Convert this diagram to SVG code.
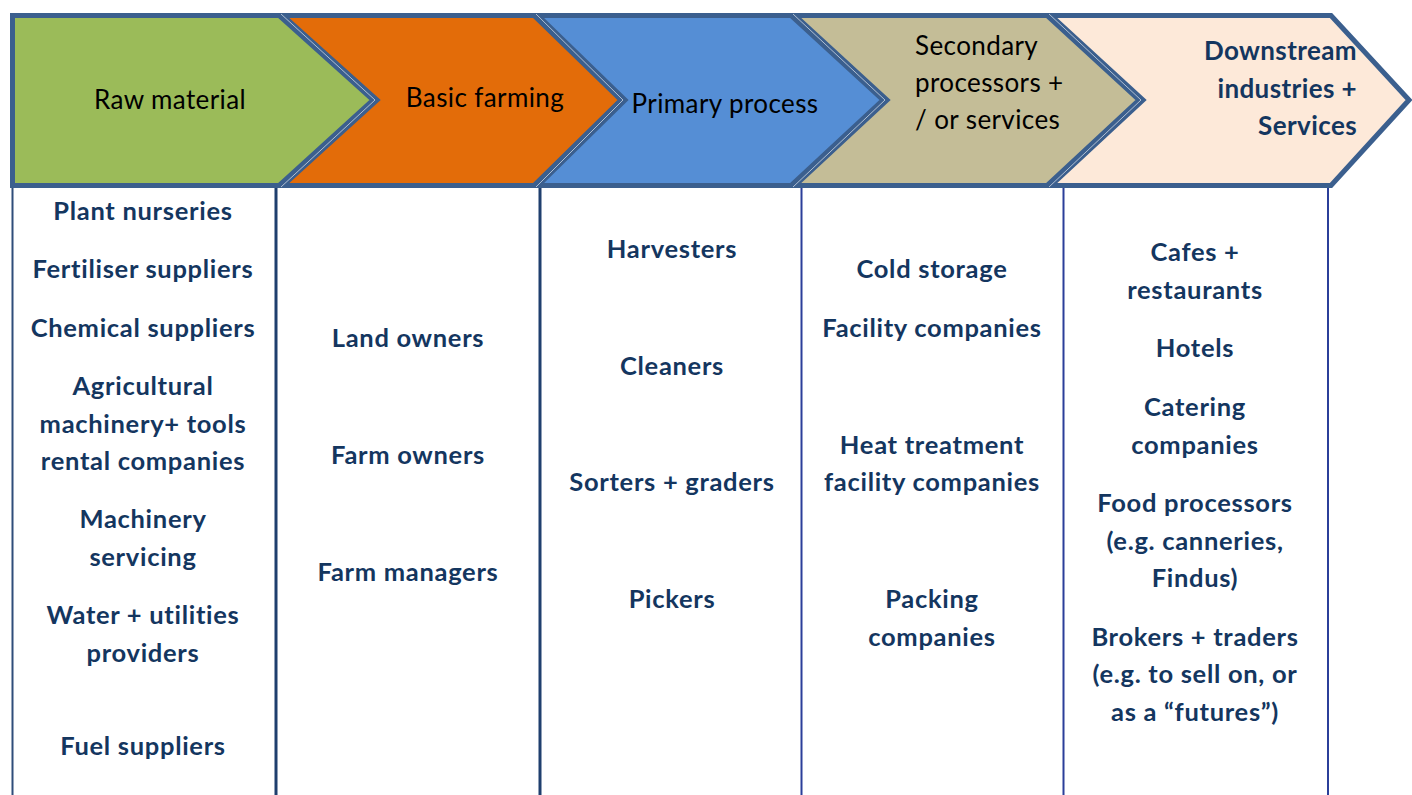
<svg xmlns="http://www.w3.org/2000/svg" width="1412" height="795" viewBox="0 0 1412 795">
<style>
.chev{stroke:#3B5F8E;stroke-width:5;stroke-linejoin:miter;stroke-miterlimit:10}
.sep{fill:none;stroke:#FFFFFF;stroke-width:0.8;opacity:0.75}
.hd{font-family:Lato,"Liberation Sans",sans-serif;font-size:26px;letter-spacing:0.4px;fill:#000000}
.hdb{font-family:Lato,"Liberation Sans",sans-serif;font-size:26px;letter-spacing:0.4px;font-weight:bold;fill:#14365F}
.it{font-family:Lato,"Liberation Sans",sans-serif;font-size:25.5px;letter-spacing:0.7px;font-weight:bold;fill:#14365F;text-anchor:middle}
.ln1{stroke:#1F3F6E;stroke-width:3}
.ln2{stroke:#2B3F99;stroke-width:2}
</style>
<rect width="1412" height="795" fill="#FFFFFF"/>
<g id="chevrons">
  <g id="stage5">
    <polygon class="chev" fill="#FDE9D9" points="1051,15.5 1331,15.5 1409,100 1331,185.5 1051,185.5 1143,100"/>
    <text class="hdb" text-anchor="end" x="1357" y="60">Downstream</text>
    <text class="hdb" text-anchor="end" x="1357" y="98">industries +</text>
    <text class="hdb" text-anchor="end" x="1357" y="135">Services</text>
  </g>
  <g id="stage4">
    <polygon class="chev" fill="#C4BD97" points="795,15.5 1047,15.5 1139,100 1047,185.5 795,185.5 887,100"/>
    <text class="hd" x="915" y="55">Secondary</text>
    <text class="hd" x="915" y="92">processors +</text>
    <text class="hd" x="915" y="129">/ or services</text>
  </g>
  <g id="stage3">
    <polygon class="chev" fill="#558ED5" points="538,15.5 791,15.5 883,100 791,185.5 538,185.5 625,100"/>
    <text class="hd" text-anchor="middle" x="725" y="113">Primary process</text>
  </g>
  <g id="stage2">
    <polygon class="chev" fill="#E36C09" points="283,15.5 534,15.5 621,100 534,185.5 283,185.5 377,100"/>
    <text class="hd" text-anchor="middle" x="485" y="107">Basic farming</text>
  </g>
  <g id="stage1">
    <polygon class="chev" fill="#9BBB59" points="12.5,15.5 279,15.5 373,100 279,185.5 12.5,185.5"/>
    <text class="hd" text-anchor="middle" x="170" y="109">Raw material</text>
  </g>
  <polyline class="sep" points="281,14 375,100 281,187"/>
  <polyline class="sep" points="536,14 623,100 536,187"/>
  <polyline class="sep" points="793,14 885,100 793,187"/>
  <polyline class="sep" points="1049,14 1141,100 1049,187"/>
</g>
<g id="connectors">
  <line class="ln2" x1="12.5" y1="188" x2="12.5" y2="795" style="stroke:#2F4D7A"/>
  <line class="ln1" x1="276" y1="188" x2="276" y2="795"/>
  <line class="ln1" x1="540" y1="188" x2="540" y2="795"/>
  <line class="ln2" x1="801.5" y1="188" x2="801.5" y2="795"/>
  <line class="ln2" x1="1063.5" y1="188" x2="1063.5" y2="795"/>
  <line class="ln2" x1="1328" y1="188" x2="1328" y2="795"/>
</g>
<g id="col1">
  <text class="it" x="143" y="220">Plant nurseries</text>
  <text class="it" x="143" y="278">Fertiliser suppliers</text>
  <text class="it" x="143" y="337">Chemical suppliers</text>
  <text class="it" x="143" y="395">Agricultural</text>
  <text class="it" x="143" y="433">machinery+ tools</text>
  <text class="it" x="143" y="470">rental companies</text>
  <text class="it" x="143" y="528">Machinery</text>
  <text class="it" x="143" y="566">servicing</text>
  <text class="it" x="143" y="624">Water + utilities</text>
  <text class="it" x="143" y="662">providers</text>
  <text class="it" x="143" y="755">Fuel suppliers</text>
</g>
<g id="col2">
  <text class="it" x="408" y="347">Land owners</text>
  <text class="it" x="408" y="464">Farm owners</text>
  <text class="it" x="408" y="581">Farm managers</text>
</g>
<g id="col3">
  <text class="it" x="672" y="258">Harvesters</text>
  <text class="it" x="672" y="375">Cleaners</text>
  <text class="it" x="672" y="491">Sorters + graders</text>
  <text class="it" x="672" y="608">Pickers</text>
</g>
<g id="col4">
  <text class="it" x="932" y="278">Cold storage</text>
  <text class="it" x="932" y="337">Facility companies</text>
  <text class="it" x="932" y="454">Heat treatment</text>
  <text class="it" x="932" y="491">facility companies</text>
  <text class="it" x="932" y="608">Packing</text>
  <text class="it" x="932" y="646">companies</text>
</g>
<g id="col5">
  <text class="it" x="1195" y="261">Cafes +</text>
  <text class="it" x="1195" y="299">restaurants</text>
  <text class="it" x="1195" y="357">Hotels</text>
  <text class="it" x="1195" y="416">Catering</text>
  <text class="it" x="1195" y="454">companies</text>
  <text class="it" x="1195" y="512">Food processors</text>
  <text class="it" x="1195" y="550">(e.g. canneries,</text>
  <text class="it" x="1195" y="587">Findus)</text>
  <text class="it" x="1195" y="646">Brokers + traders</text>
  <text class="it" x="1195" y="683">(e.g. to sell on, or</text>
  <text class="it" x="1195" y="721">as a “futures”)</text>
</g>
</svg>
